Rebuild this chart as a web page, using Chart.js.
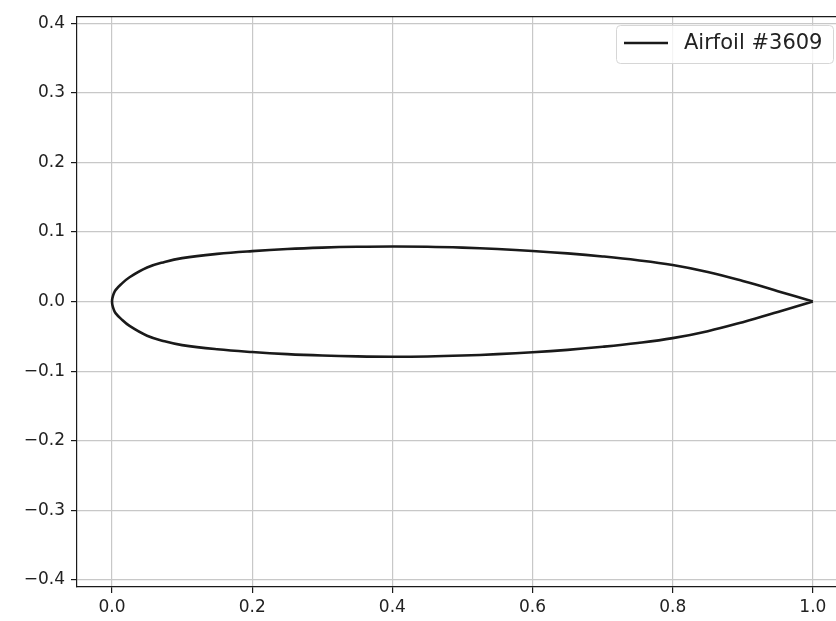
<!DOCTYPE html>
<html>
<head>
<meta charset="utf-8">
<script src="https://cdn.jsdelivr.net/npm/chart.js@4"></script>
<style>
  html, body { margin: 0; padding: 0; background: #fff; overflow: hidden; }
  #wrap { width: 836px; height: 621px; }
</style>
</head>
<body>
<div id="wrap"><canvas id="airfoil-chart" width="836" height="621"></canvas></div>
<script>
// Airfoil outline — chord stations

// ── Data ──────────────────────────────────────────────────────────────────────
const LABEL = 'Airfoil #3609';
const STATIONS = [0, 0.0005, 0.0025, 0.005, 0.0125, 0.025, 0.05, 0.075, 0.1, 0.15, 0.2, 0.25, 0.3, 0.35,
                  0.4, 0.45, 0.5, 0.55, 0.6, 0.65, 0.7, 0.75, 0.8, 0.85, 0.9, 0.95, 1.0];
const UPPER_Y = [0, 0.005, 0.0115, 0.0165, 0.0245, 0.035, 0.049, 0.057, 0.0625, 0.0685, 0.0725, 0.0755, 0.0775, 0.0787,
                 0.0792, 0.0788, 0.0775, 0.0755, 0.0728, 0.0693, 0.0649, 0.0595, 0.0525, 0.0425, 0.0295, 0.015, 0];
const LOWER_Y = [0, -0.005, -0.0115, -0.0165, -0.0245, -0.035, -0.049, -0.057, -0.0625, -0.0685, -0.0725, -0.0755, -0.0775, -0.0787,
                 -0.0792, -0.0788, -0.0775, -0.0755, -0.0728, -0.0693, -0.0649, -0.0595, -0.0525, -0.0425, -0.0295, -0.015, 0];
const X_TICKS = [0.0, 0.2, 0.4, 0.6, 0.8, 1.0];
const Y_TICKS = [-0.4, -0.3, -0.2, -0.1, 0.0, 0.1, 0.2, 0.3, 0.4];
const X_RANGE = [-0.05, 1.033];
const Y_RANGE = [-0.41, 0.41];

// ── Style ─────────────────────────────────────────────────────────────────────
const FONT = 'DejaVu Sans';
const INK = '#1a1a1a';
const GRID = '#c8c8c8';

// Selig order: trailing edge → upper → leading edge → lower → trailing edge
const points = [];
for (let i = STATIONS.length - 1; i >= 0; i--) points.push({ x: STATIONS[i], y: UPPER_Y[i] });
for (let i = 1; i < STATIONS.length; i++) points.push({ x: STATIONS[i], y: LOWER_Y[i] });

const fmt = (v) => {
  const s = Math.abs(v) < 1e-9 ? '0.0' : v.toFixed(1);
  return s.replace('-', '\u2212');
};

// frame (top spine) + matplotlib-like legend box
const framePlugin = {
  id: 'frame',
  afterDraw(chart) {
    const { ctx, chartArea: a } = chart;
    ctx.save();
    ctx.strokeStyle = INK;
    ctx.lineWidth = 1.2;
    ctx.beginPath();
    ctx.moveTo(a.left, a.top + 0.5);
    ctx.lineTo(a.right, a.top + 0.5);
    ctx.stroke();

    // legend
    const bx = 616.5, by = 25.5, bw = 217, bh = 38, r = 4;
    ctx.fillStyle = 'rgba(255,255,255,0.8)';
    ctx.strokeStyle = '#d6d6d6';
    ctx.lineWidth = 1;
    ctx.beginPath();
    ctx.roundRect(bx, by, bw, bh, r);
    ctx.fill();
    ctx.stroke();

    ctx.strokeStyle = INK;
    ctx.lineWidth = 2.6;
    ctx.beginPath();
    ctx.moveTo(624, 43);
    ctx.lineTo(668, 43);
    ctx.stroke();

    ctx.fillStyle = '#222';
    ctx.font = `21px "${FONT}"`;
    ctx.textBaseline = 'middle';
    ctx.textAlign = 'left';
    ctx.fillText(chart.data.datasets[0].label, 684, 44);
    ctx.restore();
  },
};

new Chart(document.getElementById('airfoil-chart'), {
  type: 'scatter',
  data: {
    datasets: [{
      label: LABEL,
      data: points,
      showLine: true,
      borderColor: INK,
      borderWidth: 2.6,
      pointRadius: 0,
      tension: 0.4,
      fill: false,
    }],
  },
  options: {
    responsive: false,
    animation: false,
    layout: { padding: { top: 14, right: 0, left: 0, bottom: 0 } },
    plugins: {
      legend: { display: false },
      tooltip: { enabled: false },
    },
    scales: {
      x: {
        type: 'linear',
        min: X_RANGE[0],
        max: X_RANGE[1],
        afterBuildTicks: (s) => { s.ticks = X_TICKS.map(v => ({ value: v })); },
        afterFit: (s) => { s.height = 34; },
        ticks: {
          callback: (v) => fmt(v),
          font: { family: FONT, size: 17 },
          color: '#222',
          padding: 4,
          maxRotation: 0,
          autoSkip: false,
        },
        grid: { color: GRID, lineWidth: 1.2, tickColor: INK, tickLength: 6 },
        border: { display: true, color: INK, width: 1.2 },
      },
      y: {
        type: 'linear',
        min: Y_RANGE[0],
        max: Y_RANGE[1],
        afterBuildTicks: (s) => { s.ticks = Y_TICKS.map(v => ({ value: v })); },
        afterFit: (s) => { s.width = 77; },
        ticks: {
          callback: (v) => fmt(v),
          font: { family: FONT, size: 17 },
          color: '#222',
          padding: 6,
          autoSkip: false,
        },
        grid: { color: GRID, lineWidth: 1.2, tickColor: INK, tickLength: 6 },
        border: { display: true, color: INK, width: 1.2 },
      },
    },
  },
  plugins: [framePlugin],
});
</script>
</body>
</html>
